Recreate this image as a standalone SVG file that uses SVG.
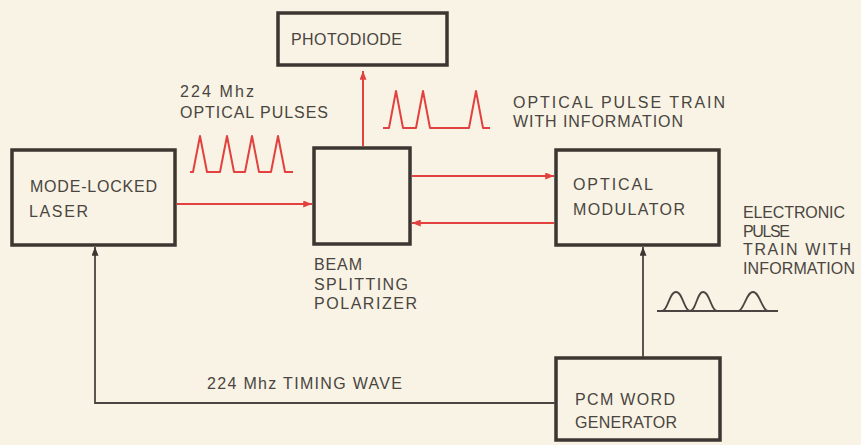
<svg xmlns="http://www.w3.org/2000/svg" width="861" height="445" viewBox="0 0 861 445">
<defs>
<style>
.box{fill:none;stroke:#3b3631;stroke-width:3.5}
.t{font-family:"Liberation Sans",Arial,sans-serif;font-size:16px;fill:#4a4540}
.red{fill:none;stroke:#e2413f;stroke-width:2;stroke-linejoin:round}
.blk{fill:none;stroke:#4a4540;stroke-width:1.8}
</style>
<marker id="ar" viewBox="0 0 10 8" refX="10" refY="4" markerWidth="10" markerHeight="7" markerUnits="userSpaceOnUse" orient="auto"><path d="M0,0 L10,4 L0,8 Z" fill="#e2413f"/></marker>
<marker id="ab" viewBox="0 0 10 8" refX="10" refY="4" markerWidth="10" markerHeight="7" markerUnits="userSpaceOnUse" orient="auto"><path d="M0,0 L10,4 L0,8 Z" fill="#3b3631"/></marker>
</defs>
<rect width="861" height="445" fill="#f8f3e5"/>

<g id="laser">
<rect class="box" x="12" y="150" width="163" height="95"/>
<text class="t" x="30" y="192" textLength="127" lengthAdjust="spacing">MODE-LOCKED</text>
<text class="t" x="29" y="217" textLength="59" lengthAdjust="spacing">LASER</text>
</g>

<g id="photodiode">
<rect class="box" x="278" y="13" width="169" height="52"/>
<text class="t" x="291" y="45" textLength="111" lengthAdjust="spacing">PHOTODIODE</text>
</g>

<g id="splitter">
<rect class="box" x="314" y="148" width="96" height="96"/>
<text class="t" x="314" y="270" textLength="48" lengthAdjust="spacing">BEAM</text>
<text class="t" x="314" y="290" textLength="94" lengthAdjust="spacing">SPLITTING</text>
<text class="t" x="314" y="309" textLength="103" lengthAdjust="spacing">POLARIZER</text>
</g>

<g id="modulator">
<rect class="box" x="556" y="150" width="163" height="95"/>
<text class="t" x="573" y="190" textLength="80" lengthAdjust="spacing">OPTICAL</text>
<text class="t" x="573" y="215" textLength="112" lengthAdjust="spacing">MODULATOR</text>
</g>

<g id="pcm">
<rect class="box" x="556" y="358" width="164" height="82"/>
<text class="t" x="575" y="405" textLength="100" lengthAdjust="spacing">PCM WORD</text>
<text class="t" x="575" y="428" textLength="102" lengthAdjust="spacing">GENERATOR</text>
</g>

<g id="connectors">
<line class="red" x1="177" y1="204" x2="312" y2="204" marker-end="url(#ar)"/>
<line class="red" x1="363" y1="146" x2="363" y2="71" marker-end="url(#ar)"/>
<line class="red" x1="412" y1="176" x2="554" y2="176" marker-end="url(#ar)"/>
<line class="red" x1="554" y1="223" x2="412" y2="223" marker-end="url(#ar)"/>
<line class="blk" x1="643" y1="357" x2="643" y2="247" marker-end="url(#ab)"/>
<polyline class="blk" points="555,403 95,403 95,247" marker-end="url(#ab)"/>
</g>

<g id="labels">
<text class="t" x="180" y="97" textLength="74" lengthAdjust="spacing">224 Mhz</text>
<text class="t" x="180" y="118" textLength="148" lengthAdjust="spacing">OPTICAL PULSES</text>
<text class="t" x="513" y="108" textLength="212" lengthAdjust="spacing">OPTICAL PULSE TRAIN</text>
<text class="t" x="513" y="127" textLength="170" lengthAdjust="spacing">WITH INFORMATION</text>
<text class="t" x="743" y="218" textLength="102" lengthAdjust="spacing">ELECTRONIC</text>
<text class="t" x="743" y="237" textLength="47" lengthAdjust="spacing">PULSE</text>
<text class="t" x="743" y="255" textLength="108" lengthAdjust="spacing">TRAIN WITH</text>
<text class="t" x="743" y="274" textLength="112" lengthAdjust="spacing">INFORMATION</text>
<text class="t" x="207" y="389" textLength="195" lengthAdjust="spacing">224 Mhz TIMING WAVE</text>
</g>

<g id="waveforms">
<polyline class="red" points="190,172 193,172 200,136 207,172 220,172 227,136 234,172 245,172 252,136 259,172 271,172 278,136 285,172 293,172"/>
<polyline class="red" points="383,128 389,128 396,91 403,128 416,128 423,91 430,128 469,128 476,91 483,128 490,128"/>
<path class="blk" d="M657,311 H778 M662,311 C668,311 669,292 676,292 C683,292 684,311 690,311 C696,311 697,292 703,292 C710,292 711,311 717,311 M738,311 C744,311 746,292 753,292 C760,292 762,311 768,311"/>
</g>
</svg>
